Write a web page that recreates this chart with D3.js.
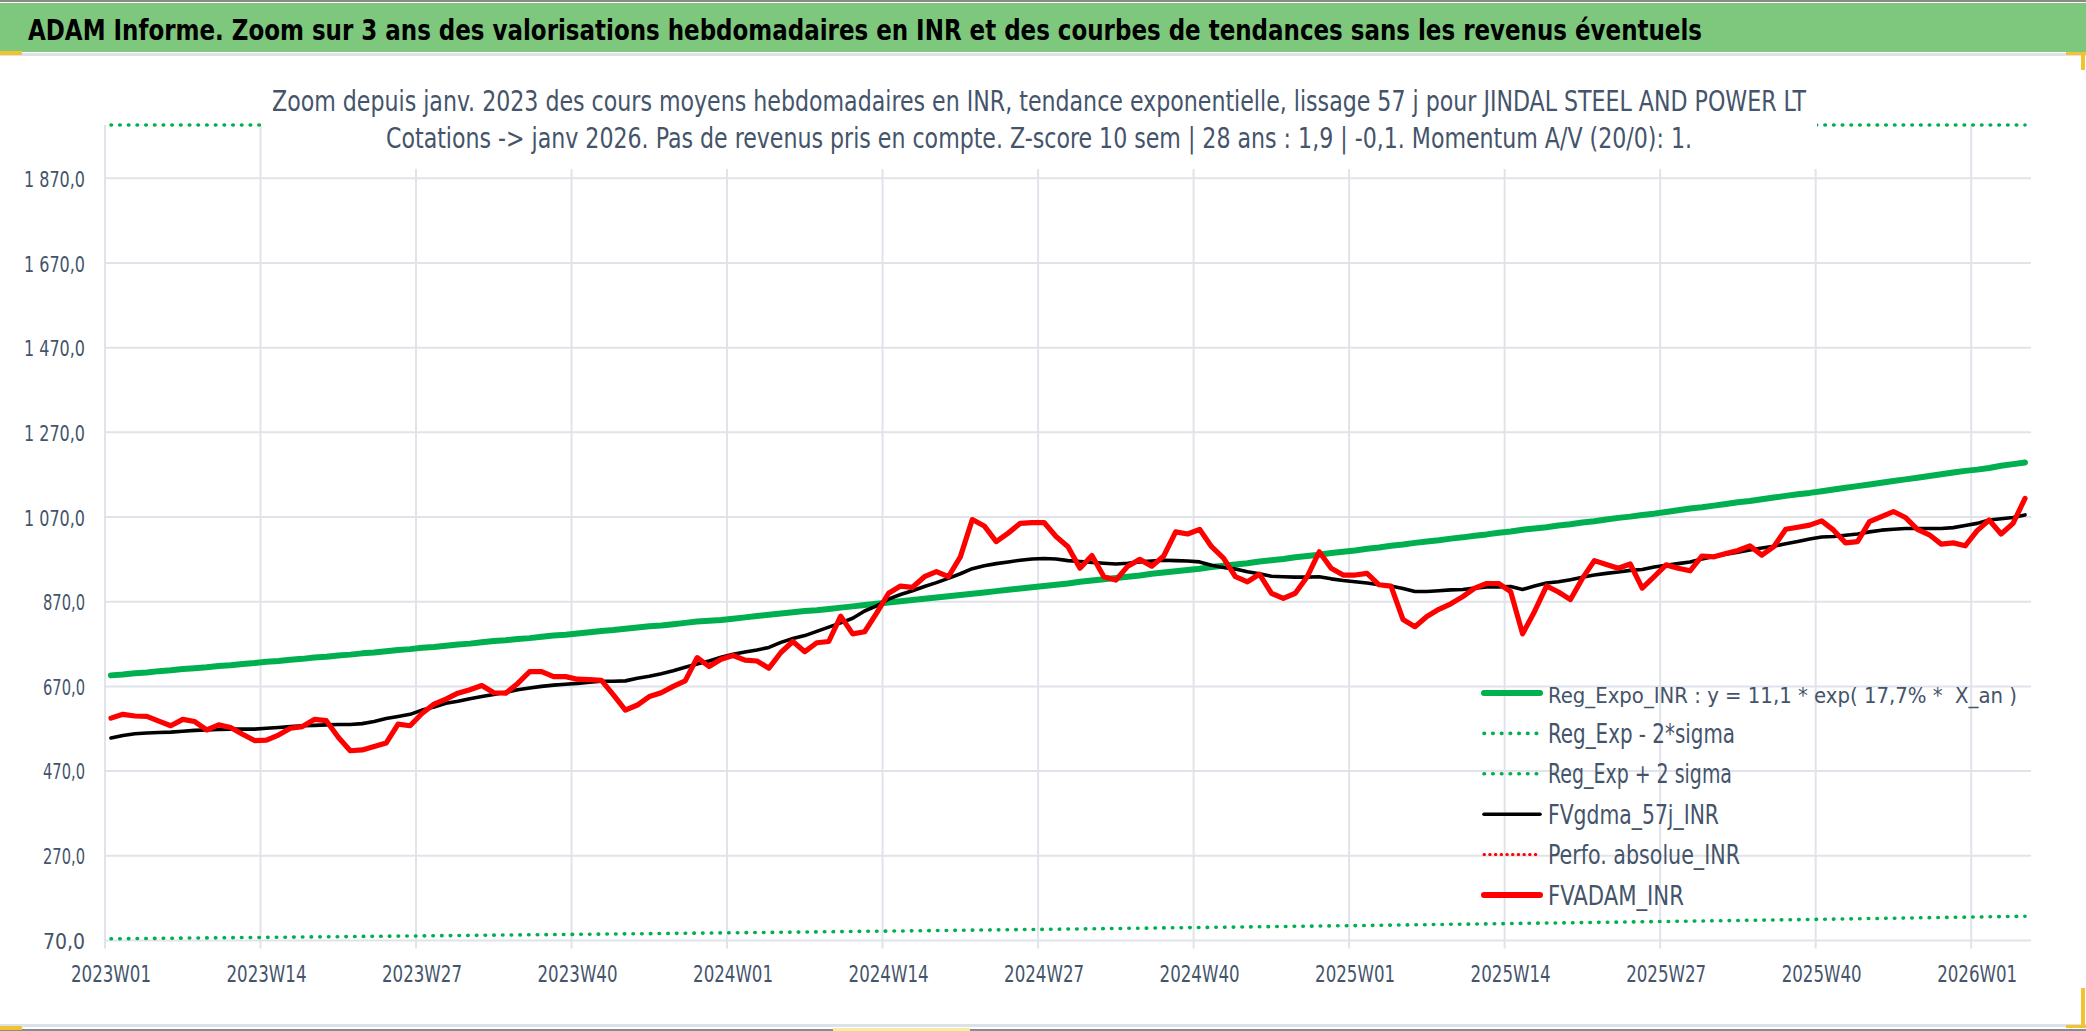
<!DOCTYPE html>
<html>
<head>
<meta charset="utf-8">
<script src="https://cdn.jsdelivr.net/npm/d3@7"></script>
<style>
  body { margin: 0; background: #fff; }
  svg { display: block; }
</style>
</head>
<body>
<svg width="2086" height="1031"></svg>
<script>
// weeks per year shown on the category axis
const yearWeeks = [[2023, 52], [2024, 52], [2025, 52], [2026, 5]]
const categories = yearWeeks.flatMap(([yr, n]) =>
  d3.range(1, n + 1).map(w => `${yr}W${String(w).padStart(2, "0")}`))

const tickLabels = ["2023W01", "2023W14", "2023W27", "2023W40", "2024W01", "2024W14",
  "2024W27", "2024W40", "2025W01", "2025W14", "2025W27", "2025W40", "2026W01"]
const yTicks = [70, 270, 470, 670, 870, 1070, 1270, 1470, 1670, 1870]

// Reg_Expo_INR
const regExpo = [
  696, 698, 701, 703, 706, 708, 711, 713, 715, 718, 720, 723, 725, 728,
  730, 733, 735, 738, 740, 743, 745, 748, 750, 753, 756, 758, 761,
  763, 766, 769, 771, 774, 777, 779, 782, 784, 787, 790, 792, 795,
  798, 801, 803, 806, 809, 812, 814, 817, 820, 823, 825, 827, 830,
  833, 836, 839, 842, 845, 848, 850, 853, 856, 859, 862, 865, 868,
  871, 874, 877, 880, 883, 886, 889, 892, 895, 898, 901, 904, 907,
  910, 913, 917, 920, 923, 926, 929, 932, 936, 939, 942, 945, 948,
  952, 955, 958, 961, 965, 968, 971, 975, 978, 981, 985, 988, 991,
  995, 998, 1002, 1005, 1009, 1012, 1015, 1019, 1022, 1026, 1029, 1033, 1036,
  1040, 1043, 1046, 1050, 1053, 1057, 1060, 1064, 1068, 1071, 1075, 1078, 1082,
  1086, 1090, 1093, 1097, 1101, 1105, 1108, 1112, 1116, 1120, 1124, 1127, 1131,
  1135, 1139, 1143, 1147, 1151, 1155, 1159, 1163, 1167, 1171, 1175, 1179, 1182,
  1186, 1191, 1195, 1199
]

// Reg_Exp - 2*sigma
const regLow = [
  73.8, 74.1, 74.3, 74.6, 74.8, 75.1, 75.4, 75.6, 75.9, 76.1, 76.4, 76.7, 76.9, 77.2,
  77.5, 77.7, 78.0, 78.3, 78.5, 78.8, 79.1, 79.4, 79.6, 79.9, 80.2, 80.4, 80.7,
  81.0, 81.3, 81.5, 81.8, 82.1, 82.4, 82.7, 82.9, 83.2, 83.5, 83.8, 84.1, 84.3,
  84.6, 84.9, 85.2, 85.5, 85.8, 86.0, 86.3, 86.6, 86.9, 87.2, 87.4, 87.7, 88.0,
  88.3, 88.6, 88.9, 89.2, 89.5, 89.8, 90.2, 90.5, 90.8, 91.1, 91.4, 91.7, 92.0,
  92.3, 92.6, 93.0, 93.3, 93.6, 93.9, 94.2, 94.6, 94.9, 95.2, 95.5, 95.8, 96.1,
  96.4, 96.8, 97.1, 97.5, 97.8, 98.1, 98.5, 98.8, 99.1, 99.5, 99.8, 100.2, 100.5,
  100.8, 101.2, 101.5, 101.9, 102.2, 102.6, 102.9, 103.3, 103.6, 104.0, 104.3, 104.7, 105.0,
  105.4, 105.7, 106.1, 106.5, 106.8, 107.2, 107.6, 108.0, 108.3, 108.7, 109.1, 109.4, 109.8,
  110.2, 110.6, 111.0, 111.3, 111.7, 112.1, 112.5, 112.9, 113.2, 113.6, 114.0, 114.4, 114.7,
  115.1, 115.5, 115.9, 116.3, 116.7, 117.1, 117.5, 117.9, 118.3, 118.7, 119.1, 119.5, 119.9,
  120.3, 120.7, 121.2, 121.6, 122.0, 122.4, 122.8, 123.2, 123.7, 124.1, 124.5, 124.9, 125.3,
  125.7, 126.2, 126.6, 127.1
]

// Reg_Exp + 2 sigma (far above the axis max, shows clipped at the top)
const regHigh = [
  6540, 6560, 6590, 6610, 6630, 6660, 6680, 6700, 6720, 6750, 6770, 6790, 6820, 6840,
  6860, 6890, 6910, 6940, 6960, 6980, 7010, 7030, 7060, 7080, 7100, 7130, 7150,
  7180, 7200, 7230, 7250, 7280, 7300, 7320, 7350, 7370, 7400, 7420, 7450, 7470,
  7500, 7520, 7550, 7570, 7600, 7620, 7650, 7670, 7700, 7730, 7750, 7780, 7800,
  7830, 7860, 7880, 7910, 7940, 7970, 7990, 8020, 8050, 8080, 8110, 8130, 8160,
  8190, 8220, 8250, 8270, 8300, 8330, 8360, 8390, 8420, 8450, 8470, 8500, 8530,
  8560, 8590, 8620, 8650, 8680, 8710, 8730, 8760, 8790, 8820, 8850, 8880, 8910,
  8940, 8970, 9000, 9040, 9070, 9100, 9130, 9160, 9190, 9230, 9260, 9290, 9320,
  9350, 9380, 9420, 9450, 9480, 9510, 9550, 9580, 9610, 9640, 9680, 9710, 9740,
  9770, 9810, 9840, 9870, 9910, 9940, 9970, 10010, 10040, 10070, 10100, 10140, 10170,
  10210, 10240, 10280, 10310, 10350, 10380, 10420, 10450, 10490, 10530, 10560, 10600, 10630,
  10670, 10710, 10740, 10780, 10820, 10850, 10890, 10930, 10960, 11000, 11040, 11070, 11110,
  11150, 11190, 11230, 11270
]

// FVgdma_57j_INR
const gdma = [
  548, 554, 558, 560, 561, 562, 564, 566, 567, 568, 569, 569, 569, 571,
  573, 575, 577, 578, 579, 580, 580, 582, 587, 594, 599, 604, 614,
  621, 630, 635, 641, 646, 651, 656, 662, 666, 670, 673, 675, 677,
  680, 682, 682, 683, 689, 694, 700, 707, 715, 723, 730, 739, 746,
  751, 756, 762, 774, 783, 790, 800, 810, 820, 831, 848, 860, 876,
  887, 896, 906, 915, 925, 936, 948, 955, 960, 964, 968, 971, 972,
  971, 967, 965, 963, 961, 959, 961, 964, 966, 968, 967, 966, 964,
  956, 951, 947, 941, 936, 930, 929, 928, 928, 929, 924, 920, 917,
  914, 910, 907, 901, 894, 894, 896, 898, 899, 902, 905, 905, 906,
  899, 907, 914, 917, 922, 928, 933, 937, 940, 944, 946, 952, 956,
  960, 964, 971, 977, 982, 987, 992, 997, 1001, 1007, 1012, 1018, 1023,
  1024, 1027, 1030, 1035, 1039, 1041, 1043, 1043, 1043, 1043, 1045, 1050, 1055,
  1063, 1066, 1069, 1075
]

// FVADAM_INR
const adam = [
  595, 604, 600, 599, 588, 577, 592, 587, 567, 579, 573, 557, 542, 543,
  555, 571, 575, 592, 589, 550, 518, 520, 528, 536, 581, 577, 606,
  628, 640, 654, 662, 672, 655, 654, 677, 705, 705, 693, 693, 687,
  686, 684, 650, 614, 626, 646, 655, 670, 683, 738, 717, 734, 743,
  732, 730, 713, 750, 776, 752, 773, 776, 836, 794, 799, 843, 890,
  907, 904, 929, 941, 929, 976, 1064, 1049, 1012, 1032, 1055, 1057, 1057,
  1024, 1000, 949, 979, 929, 921, 954, 970, 954, 978, 1035, 1030, 1041,
  1000, 973, 929, 917, 935, 890, 878, 890, 929, 988, 949, 933, 933,
  937, 910, 907, 828, 811, 835, 852, 865, 882, 902, 913, 913, 894,
  794, 847, 907, 893, 875, 925, 967, 958, 949, 959, 902, 929, 957,
  949, 943, 978, 976, 984, 991, 1002, 980, 1000, 1041, 1046, 1051, 1061,
  1039, 1009, 1012, 1059, 1071, 1083, 1069, 1041, 1028, 1006, 1009, 1002, 1038,
  1063, 1030, 1055, 1114
]

const FONT = "'Liberation Sans Narrow', 'DejaVu Sans Condensed', 'Liberation Sans', sans-serif"
const INK = "#44546A"
const GREEN = "#00B050"

// shrink the font only as far as needed (allowing some squeeze), then pin the width
function fitText(sel, target, base, squeeze = 1) {
  sel.each(function(d, i) {
    const t = d3.select(this)
    const len = typeof target === "function" ? target(d) : target
    const sq = typeof squeeze === "function" ? squeeze(d, i) : squeeze
    t.attr("font-size", base)
    const w = this.getComputedTextLength()
    if (w > len * sq) t.attr("font-size", (base * len * sq / w).toFixed(2))
    t.attr("textLength", len).attr("lengthAdjust", "spacingAndGlyphs")
  })
}

const svg = d3.select("svg")
const W = +svg.attr("width"), H = +svg.attr("height")
const plot = {left: 105, right: 2031, top: 125, bottom: 940.4}

// frame and header band
svg.append("rect").attr("width", W).attr("height", H).attr("fill", "#fff")
svg.append("rect").attr("x", 0).attr("y", 0).attr("width", W).attr("height", 2).attr("fill", "#8a8a8a")
svg.append("rect").attr("x", 0).attr("y", 3).attr("width", W).attr("height", 49).attr("fill", "#7DC87D")
svg.append("rect").attr("x", 0).attr("y", 53).attr("width", W).attr("height", 3).attr("fill", "#DDE1E8")
svg.append("rect").attr("x", 0).attr("y", 1024).attr("width", W).attr("height", 3).attr("fill", "#DDE1E8")
svg.append("rect").attr("x", 0).attr("y", 1029).attr("width", W).attr("height", 2).attr("fill", "#8a8a8a")
// selection handles
const handles = [[0, 51, 22, 4], [0, 1026, 22, 4], [2066, 52, 20, 3], [2081, 52, 4, 18],
  [2081, 988, 4, 40], [2066, 1025, 20, 3], [833, 1028, 137, 3]]
svg.selectAll(".handle").data(handles).enter().append("rect")
  .attr("class", "handle")
  .attr("x", d => d[0]).attr("y", d => d[1]).attr("width", d => d[2]).attr("height", d => d[3])
  .attr("fill", (d, i) => i === 6 ? "#F6EDA0" : "#F2C230")

svg.append("text")
  .attr("x", 28).attr("y", 40)
  .attr("font-family", FONT).attr("font-weight", "bold")
  .attr("fill", "#000")
  .text("ADAM Informe. Zoom sur 3 ans des valorisations hebdomadaires en INR et des courbes de tendances sans les revenus éventuels")
  .call(fitText, 1674, 33, 1.1)

const x = d3.scaleBand()
  .domain(categories)
  .range([plot.left, plot.right])
  .padding(0)
const cx = d => x(d) + x.bandwidth() / 2

const y = d3.scaleLinear()
  .domain([70, 1996])
  .range([plot.bottom, plot.top])
const yClamp = y.copy().clamp(true)

const fr = d3.formatLocale({decimal: ",", thousands: " ", grouping: [3], currency: ["", ""]})
const fmt = fr.format(",.1f")

// grid
const grid = svg.append("g").attr("stroke", "#E0E3E9").attr("stroke-width", 2)
grid.selectAll(".hg").data(yTicks).enter().append("line")
  .attr("x1", plot.left).attr("x2", plot.right)
  .attr("y1", d => y(d)).attr("y2", d => y(d))
grid.selectAll(".vg").data(tickLabels).enter().append("line")
  .attr("x1", d => x(d)).attr("x2", d => x(d))
  .attr("y1", plot.top).attr("y2", plot.bottom + 8)

// axes
const gy = svg.append("g")
  .attr("transform", `translate(${plot.left},0)`)
  .call(d3.axisLeft(y).tickValues(yTicks).tickFormat(fmt).tickSize(0).tickPadding(20))
gy.select(".domain").remove()
gy.selectAll("text")
  .attr("font-family", FONT).attr("fill", INK)
  .attr("dy", "0.37em")
  .call(fitText, d => d >= 1000 ? 61 : 42, 22, 1.3)

const gx = svg.append("g")
  .attr("transform", `translate(0,${plot.bottom})`)
  .call(d3.axisBottom(x).tickValues(tickLabels).tickSize(0))
gx.select(".domain").remove()
gx.selectAll("text")
  .attr("font-family", FONT).attr("fill", INK)
  .attr("y", 41.3).attr("dy", null)
  .call(fitText, 80, 23, 1.3)

// series
const line = (scale) => d3.line()
  .x((d, i) => cx(categories[i]))
  .y(d => scale(d))

const series = [
  {values: regExpo, scale: y, color: GREEN, width: 6, dash: null},
  {values: regLow, scale: y, color: GREEN, width: 3.6, dash: "0.5 8.2"},
  {values: regHigh, scale: yClamp, color: GREEN, width: 3.6, dash: "0.5 8.2"},
  {values: gdma, scale: y, color: "#000", width: 3.6, dash: null},
  {values: adam, scale: y, color: "#FF0000", width: 5.2, dash: null}
]

svg.append("g").selectAll("path").data(series).enter().append("path")
  .attr("d", s => line(s.scale)(s.values))
  .attr("fill", "none")
  .attr("stroke", s => s.color)
  .attr("stroke-width", s => s.width)
  .attr("stroke-dasharray", s => s.dash)
  .attr("stroke-linecap", "round")
  .attr("stroke-linejoin", "round")

// chart title box (white, masks the clipped upper band)
svg.append("rect").attr("x", 265).attr("y", 66).attr("width", 1552).attr("height", 103).attr("fill", "#fff")
const sub = svg.append("g").attr("font-family", FONT).attr("fill", INK)
sub.append("text").attr("x", 272).attr("y", 110.5)
  .text("Zoom depuis janv. 2023 des cours moyens hebdomadaires en INR, tendance exponentielle, lissage 57 j pour JINDAL STEEL AND POWER LT")
  .call(fitText, 1534, 29, 1.15)
sub.append("text").attr("x", 386).attr("y", 148.3)
  .text("Cotations -> janv 2026. Pas de revenus pris en compte. Z-score 10 sem | 28 ans : 1,9 | -0,1. Momentum A/V (20/0): 1.")
  .call(fitText, 1306, 29, 1.15)

// legend
const legend = [
  {name: "Reg_Expo_INR : y = 11,1 * exp( 17,7% *  X_an )", color: GREEN, width: 6, dash: null, len: 469},
  {name: "Reg_Exp - 2*sigma", color: GREEN, width: 3.6, dash: "0.5 8.2", len: 187},
  {name: "Reg_Exp + 2 sigma", color: GREEN, width: 3.6, dash: "0.5 8.2", len: 184},
  {name: "FVgdma_57j_INR", color: "#000", width: 3.6, dash: null, len: 171},
  {name: "Perfo. absolue_INR", color: "#FF0000", width: 3, dash: "0.5 5.2", len: 192},
  {name: "FVADAM_INR", color: "#FF0000", width: 6, dash: null, len: 136}
]
const lg = svg.append("g").attr("transform", "translate(1482,693)")
const item = lg.selectAll("g").data(legend).enter().append("g")
  .attr("transform", (d, i) => `translate(0,${i * 40.4})`)
item.append("line")
  .attr("x1", 2).attr("x2", 58).attr("y1", 0).attr("y2", 0)
  .attr("stroke", d => d.color).attr("stroke-width", d => d.width)
  .attr("stroke-dasharray", d => d.dash)
  .attr("stroke-linecap", "round")
item.append("text")
  .attr("x", 66).attr("y", 9.5)
  .attr("font-family", FONT).attr("fill", INK)
  .attr("xml:space", "preserve")
  .text(d => d.name)
  .call(fitText, d => d.len, 26, (d, i) => i === 0 ? 1.0 : 1.25)
</script>
</body>
</html>
